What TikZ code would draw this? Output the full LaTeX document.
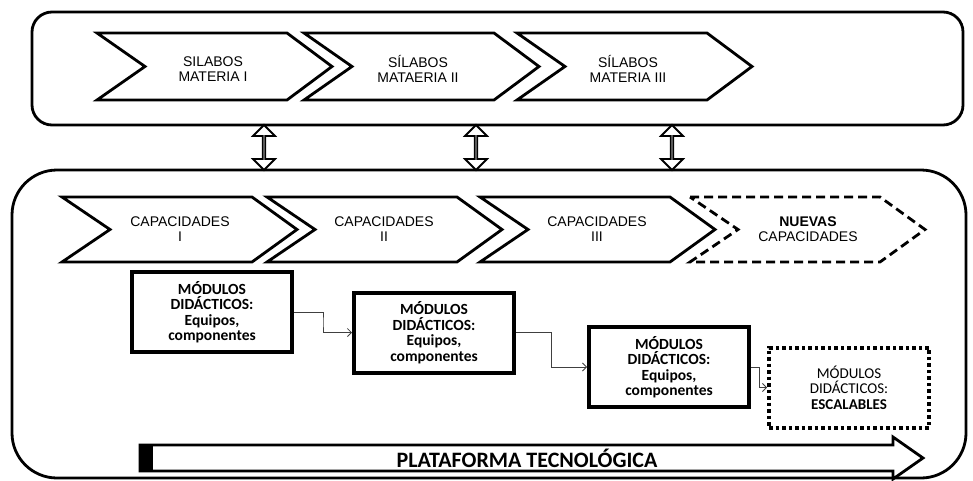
\documentclass[tikz,border=0pt]{standalone}
\usepackage{fontspec}
\setmainfont{Liberation Sans}
\newfontfamily\boxfont{Carlito}
\usetikzlibrary{shapes.arrows,arrows.meta,calc}
\begin{document}
\begin{tikzpicture}[x=1pt,y=-1pt,
  frame/.style={draw, line width=2.8pt, rounded corners=#1, inner sep=0pt},
  chev/.style={draw, line width=2.8pt, fill=white, line join=miter},
  chevdash/.style={chev, dash pattern=on 9pt off 5pt},
  ctext/.style={align=center, inner sep=0pt, font=\fontsize{14}{15}\selectfont},
  modbox/.style={draw, line width=4pt, fill=white, minimum width=160pt, minimum height=80pt,
     align=center, inner sep=0pt, font=\boxfont\bfseries\fontsize{15.5}{15.5}\selectfont},
  modboxdot/.style={modbox, dash pattern=on 3.5pt off 3pt, font=\boxfont\fontsize{15}{15.5}\selectfont},
  dbl/.style={double arrow, draw, line width=1.8pt, fill=white, rotate=90, minimum height=45pt,
     minimum width=22pt, double arrow head extend=7pt, inner sep=0pt},
  conn/.style={draw=black!75, line width=0.8pt, -{Straight Barb[length=4pt,width=8pt]}}
]
\useasboundingbox (0,0) rectangle (973,480);
\fill[white] (0,0) rectangle (973,480);

% frames
\node[frame=20pt, minimum width=931pt, minimum height=113pt] (tb) at (497.5,68.5) {};
\node[frame=45pt, minimum width=954pt, minimum height=308pt] (lb) at (489,324) {};

% top chevrons
\draw[chev] (97,33) -- (287,33) -- (332,66.5) -- (287,100) -- (97,100) -- (145,66.5) -- cycle;
\draw[chev] (304,33) -- (494,33) -- (539,66.5) -- (494,100) -- (304,100) -- (352,66.5) -- cycle;
\draw[chev] (517,33) -- (707,33) -- (752,66.5) -- (707,100) -- (517,100) -- (565,66.5) -- cycle;
\node[ctext] (s1) at (213,69) {SILABOS\\MATERIA I};
\node[ctext] (s2) at (418,69) {SÍLABOS\\MATAERIA II};
\node[ctext] (s3) at (628,69) {SÍLABOS\\MATERIA III};

% double arrows
\node[dbl] (d1) at (264,147.5) {};
\node[dbl] (d2) at (476,147.5) {};
\node[dbl] (d3) at (672,147.5) {};

% lower chevrons
\draw[chev] (62,197) -- (252,197) -- (297,229.5) -- (252,262) -- (62,262) -- (110,229.5) -- cycle;
\draw[chev] (267,197) -- (457,197) -- (502,229.5) -- (457,262) -- (267,262) -- (315,229.5) -- cycle;
\draw[chev] (480,197) -- (670,197) -- (715,229.5) -- (670,262) -- (480,262) -- (528,229.5) -- cycle;
\draw[chevdash] (690,197) -- (880,197) -- (925,229.5) -- (880,262) -- (690,262) -- (738,229.5) -- cycle;
\node[ctext] (c1) at (180,229.5) {CAPACIDADES\\I};
\node[ctext] (c2) at (384,229.5) {CAPACIDADES\\II};
\node[ctext] (c3) at (597,229.5) {CAPACIDADES\\III};
\node[ctext] (c4) at (808,229.5) {\textbf{NUEVAS}\\CAPACIDADES};

% module boxes
\node[modbox] (b1) at (212,312) {MÓDULOS\\DIDÁCTICOS:\\Equipos,\\componentes};
\node[modbox] (b2) at (434,332.5) {MÓDULOS\\DIDÁCTICOS:\\Equipos,\\componentes};
\node[modbox] (b3) at (669,367) {MÓDULOS\\DIDÁCTICOS:\\Equipos,\\componentes};
\node[modboxdot] (b4) at (849,387.5) {MÓDULOS\\DIDÁCTICOS:\\\textbf{ESCALABLES}};

\draw[conn] (b1.east) -| ($(b1.east)!.5!(b2.west)$) |- (b2.west);
\draw[conn] (b2.east) -| ($(b2.east)!.5!(b3.west)$) |- (b3.west);
\draw[conn] (b3.east) -| ($(b3.east)!.5!(b4.west)$) |- (b4.west);

% platform arrow
\draw[line width=2.8pt, line join=miter, fill=white] (140,445) -- (893,445) -- (893,437) -- (923,458) -- (893,479) -- (893,471) -- (140,471) -- cycle;
\fill (140,445) rectangle (153,471);
\node[inner sep=0pt, font=\boxfont\bfseries\fontsize{22}{22}\selectfont] (pt) at (527,458) {PLATAFORMA TECNOLÓGICA};
\end{tikzpicture}
\end{document}
